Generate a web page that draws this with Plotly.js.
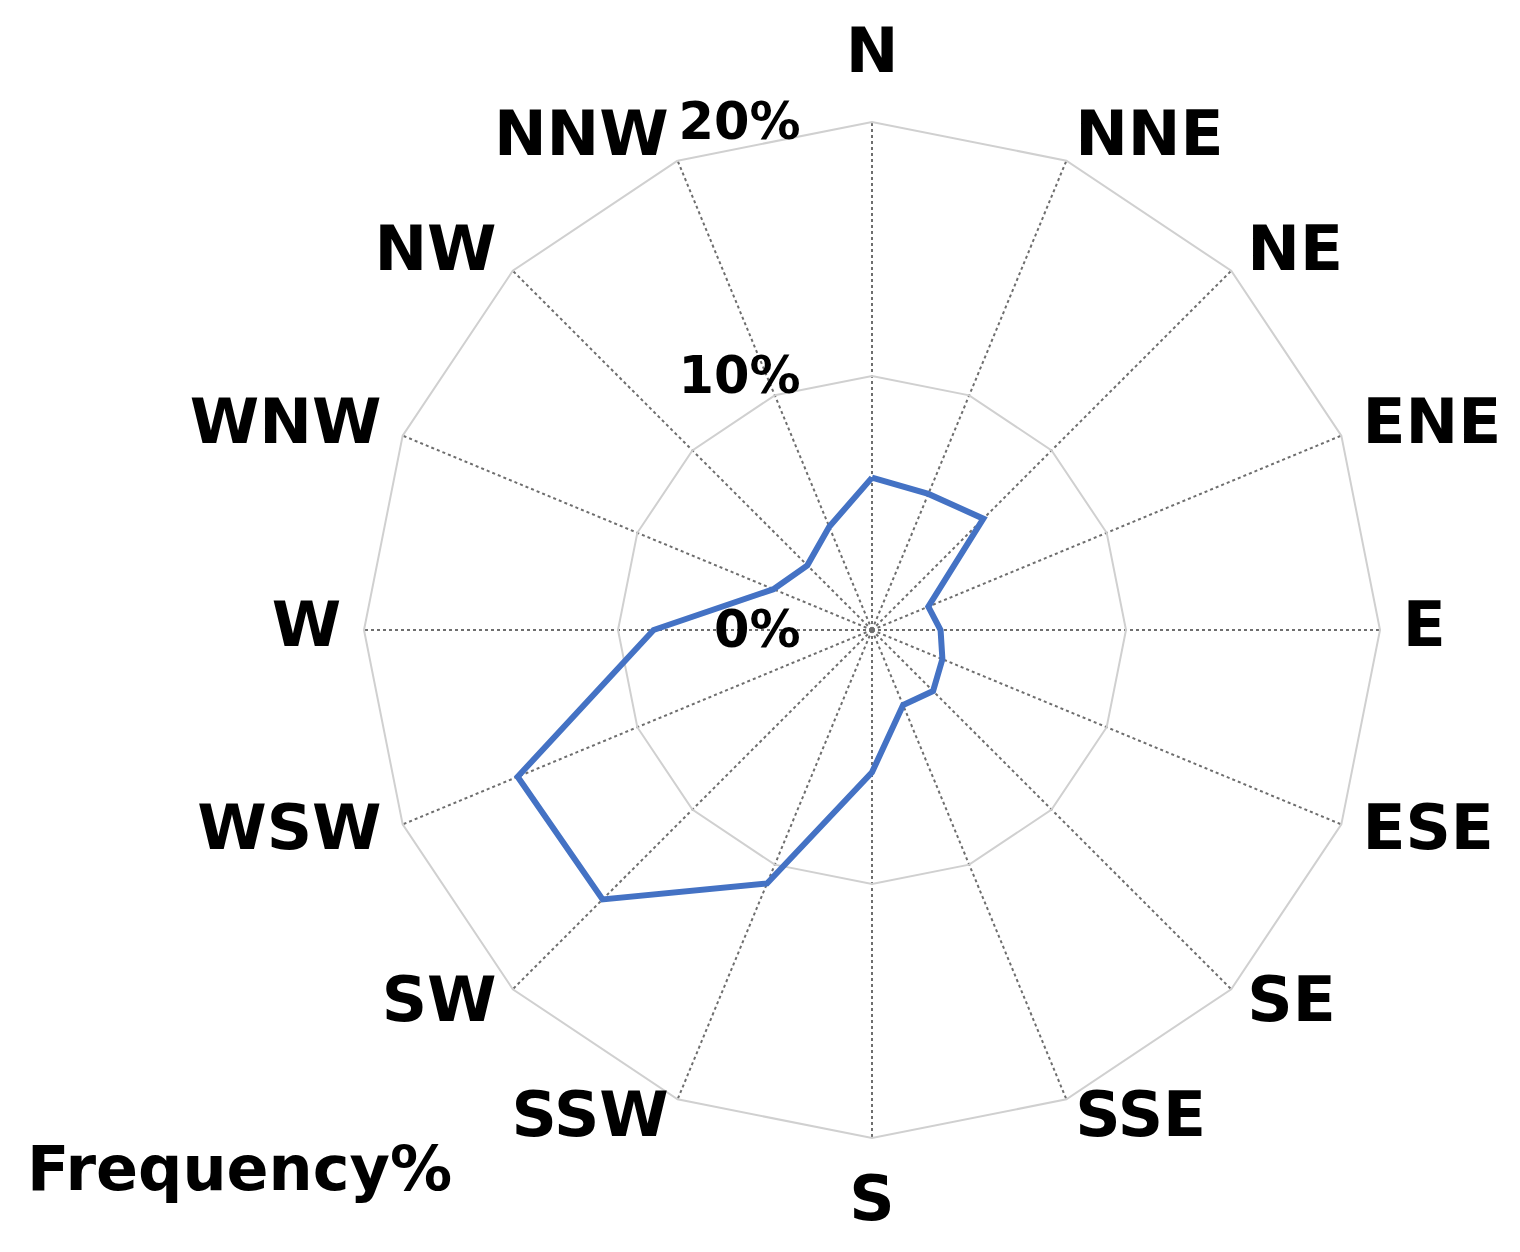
<!DOCTYPE html>
<html>
<head>
<meta charset="utf-8">
<script src="https://cdn.plot.ly/plotly-3.0.1.min.js"></script>
<style>
  body { margin: 0; background: #fff; }
  #chart { width: 1520px; height: 1252px; }
</style>
</head>
<body>
<div id="chart"></div>
<script>
// wind directions, clockwise from north
const directions = ["N", "NNE", "NE", "ENE", "E", "ESE", "SE", "SSE",
                    "S", "SSW", "SW", "WSW", "W", "WNW", "NW", "NNW"];
// frequency in percent
const frequency = [6.0, 5.8, 6.2, 2.4, 2.7, 3.0, 3.4, 3.2,
                   5.6, 10.8, 15.0, 15.1, 8.6, 4.2, 3.6, 4.4];
const radialTicks = [0, 10, 20];
const radialTickText = ["0%", "10%", "20%"];

const W = 1520, H = 1252;
const rMax = 20;
const bold = "DejaVu Sans";

// plot centre and outer radius in px
const cx = 872, cy = 630, R = 508;
// label overlay: same centre, wider range so the labels fit inside it
const labelScale = 1.13;

function domainFor(radius) {
    return {
        x: [(cx - radius) / W, (cx + radius) / W],
        y: [(H - cy - radius) / H, (H - cy + radius) / H]
    };
}

// close the polygon
const theta = directions.concat([directions[0]]);
const r = frequency.concat([frequency[0]]);

// direction labels sit just outside the outer polygon, Excel style:
// beside the vertex on the east/west sides, centred above/below for N and S
const half = directions.length / 2;
const labelPos = directions.map((d, i) =>
    i === 0 || i === half ? "middle center" : (i < half ? "middle right" : "middle left"));
const labelR = directions.map((d, i) => (i === 0 || i === half) ? rMax * 1.13 : rMax * 1.045);

const hiddenAngular = {
    type: "category",
    categoryarray: directions,
    direction: "clockwise",
    rotation: 90,
    showgrid: false,
    showline: false,
    showticklabels: false,
    ticks: ""
};

let traces = [{
    type: "scatterpolar",
    theta: theta,
    r: r,
    mode: "lines",
    line: { color: "#4472c4", width: 6 },
    hoverinfo: "skip"
}, {
    type: "scatterpolar",
    subplot: "polar2",
    theta: directions,
    r: labelR,
    mode: "text",
    text: directions,
    textposition: labelPos,
    textfont: { family: bold, size: 63, color: "#000000", weight: "bold" },
    cliponaxis: false,
    hoverinfo: "skip"
}];

const layout = {
    width: W,
    height: H,
    margin: { l: 0, r: 0, t: 0, b: 0 },
    paper_bgcolor: "#ffffff",
    showlegend: false,
    font: { family: bold, color: "#000000" },
    polar: {
        domain: domainFor(R),
        gridshape: "linear",
        bgcolor: "#ffffff",
        angularaxis: {
            type: "category",
            categoryarray: directions,
            direction: "clockwise",
            rotation: 90,
            showline: true,
            linecolor: "#d0d0d0",
            linewidth: 2,
            showgrid: true,
            gridcolor: "#6e6e6e",
            gridwidth: 2,
            griddash: "dot",
            showticklabels: false,
            ticks: ""
        },
        radialaxis: {
            range: [0, rMax],
            angle: 90,
            side: "counterclockwise",
            showline: false,
            showgrid: true,
            gridcolor: "#d0d0d0",
            gridwidth: 2,
            tickvals: radialTicks,
            ticktext: radialTickText,
            tickangle: 90,
            ticks: "outside",
            ticklen: 53,
            tickcolor: "rgba(0,0,0,0)",
            tickfont: { family: bold, size: 51, color: "#000000", weight: "bold" }
        }
    },
    polar2: {
        domain: domainFor(R * labelScale),
        bgcolor: "rgba(0,0,0,0)",
        angularaxis: hiddenAngular,
        radialaxis: { range: [0, rMax * labelScale], visible: false }
    },
    annotations: [{
        text: "Frequency%",
        xref: "paper", yref: "paper",
        x: 25 / W, y: 1 - 1168 / H,
        xanchor: "left", yanchor: "middle",
        showarrow: false,
        font: { family: bold, size: 62, color: "#000000", weight: "bold" }
    }]
};

Plotly.newPlot("chart", traces, layout, { displayModeBar: false, staticPlot: true });
</script>
</body>
</html>
